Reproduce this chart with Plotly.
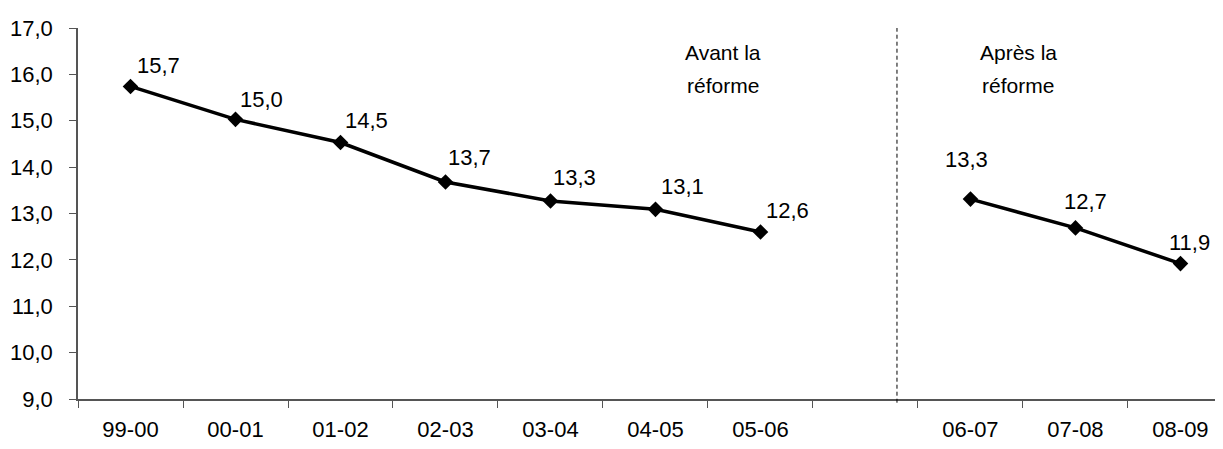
import plotly.graph_objects as go

categories = ["99-00", "00-01", "01-02", "02-03", "03-04", "04-05", "05-06", " ", "06-07", "07-08", "08-09"]
values = [15.74, 15.03, 14.53, 13.68, 13.27, 13.09, 12.60, None, 13.31, 12.69, 11.92]
y_ticks = [9, 10, 11, 12, 13, 14, 15, 16, 17]
notes = [("Avant la", "réforme"), ("Après la", "réforme")]

# label offsets (px) per point: style only
label_dx = [28, 26, 26, 24, 24, 27, 27, 0, -4, 10, 9]
label_dy = [21, 20, 22, 24, 23, 23, 22, 0, 40, 26, 21]

FONT = "Liberation Sans, Arial, sans-serif"
FS = 22

fig = go.Figure()
fig.add_trace(go.Scatter(
    x=categories, y=values, mode="lines+markers",
    line=dict(color="black", width=3.5),
    marker=dict(symbol="diamond", size=12, color="black"),
    connectgaps=False, hoverinfo="skip", showlegend=False,
))

annotations = []
for c, v, dx, dy in zip(categories, values, label_dx, label_dy):
    if v is None:
        continue
    annotations.append(dict(
        x=c, y=v, xref="x", yref="y", text=f"{v:.1f}".replace(".", ","),
        showarrow=False, xshift=dx, yshift=dy,
        font=dict(family=FONT, size=FS, color="black"),
    ))

# plot area: 1145 px wide, 371 px tall, top at page y=28
note_x = [723, 1018]
note_y = [52, 85]
for (l1, l2), nx in zip(notes, note_x):
    for txt, ny in zip((l1, l2), note_y):
        annotations.append(dict(
            x=(nx - 78) / 1145, y=1 - (ny - 28) / 371, xref="paper", yref="paper",
            text=txt, showarrow=False, xanchor="center", yanchor="middle",
            font=dict(family=FONT, size=21, color="black"),
        ))

fig.update_layout(
    width=1215, height=441,
    margin=dict(l=70, r=0, t=20, b=50, autoexpand=False),
    paper_bgcolor="white", plot_bgcolor="white",
    separators=",.",
    annotations=annotations,
    shapes=[dict(type="line", xref="x", yref="paper", x0=7.3, x1=7.3, y0=-0.01, y1=1.0,
                 line=dict(color="black", width=1, dash="4px,3px"))],
    font=dict(family=FONT, size=FS, color="black"),
)
fig.update_xaxes(
    type="category", categoryorder="array", categoryarray=categories,
    range=[-0.5, 10.405], tickson="boundaries",
    ticks="outside", ticklen=7, tickcolor="#555", tickwidth=1,
    showline=True, linecolor="#555", linewidth=1.5,
    showgrid=False, zeroline=False, ticklabelstandoff=10,
    tickfont=dict(family=FONT, size=FS, color="black"),
)
fig.update_yaxes(
    range=[9, 17], tickvals=y_ticks, tickformat=".1f",
    ticks="outside", ticklen=7, tickcolor="#555", tickwidth=1,
    showline=True, linecolor="#555", linewidth=1.5,
    showgrid=False, zeroline=False, ticklabelstandoff=12,
    tickfont=dict(family=FONT, size=FS, color="black"),
)
fig.write_html("out.html")
